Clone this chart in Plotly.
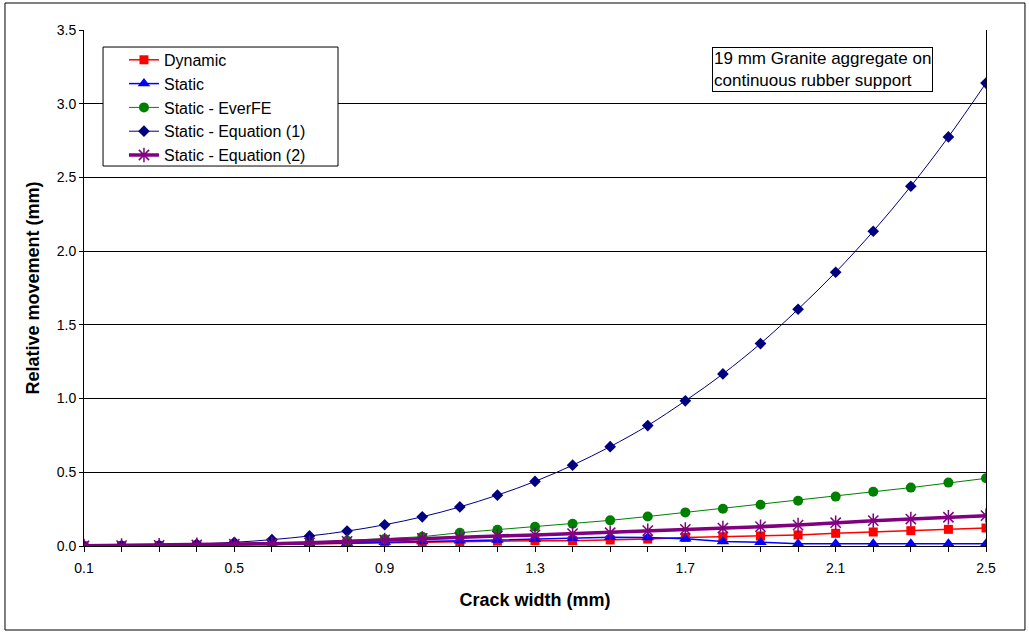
import plotly.graph_objects as go

# Crack width (mm)
crack_width = [0.1, 0.2, 0.3, 0.4, 0.5, 0.6, 0.7, 0.8, 0.9, 1.0, 1.1, 1.2, 1.3,
               1.4, 1.5, 1.6, 1.7, 1.8, 1.9, 2.0, 2.1, 2.2, 2.3, 2.4, 2.5]

# Relative movement (mm) for each series
dynamic = [0.001, 0.002, 0.003, 0.005, 0.008, 0.011, 0.015, 0.019, 0.023, 0.027,
           0.030, 0.033, 0.036, 0.036, 0.041, 0.047, 0.058, 0.063, 0.068, 0.075,
           0.086, 0.095, 0.104, 0.113, 0.122]
static = [0.001, 0.002, 0.003, 0.005, 0.008, 0.011, 0.015, 0.020, 0.025, 0.030,
          0.036, 0.041, 0.046, 0.052, 0.059, 0.058, 0.050, 0.030, 0.026, 0.015,
          0.015, 0.015, 0.015, 0.015, 0.015]
static_everfe = [0.000, 0.001, 0.002, 0.004, 0.007, 0.012, 0.025, 0.036, 0.047, 0.063,
                 0.090, 0.110, 0.131, 0.151, 0.174, 0.200, 0.228, 0.253, 0.280, 0.307,
                 0.335, 0.368, 0.396, 0.430, 0.459]
static_eq1 = [0.000, 0.002, 0.005, 0.013, 0.025, 0.043, 0.068, 0.101, 0.144, 0.198,
              0.265, 0.345, 0.438, 0.548, 0.674, 0.817, 0.985, 1.167, 1.373, 1.606,
              1.857, 2.135, 2.440, 2.775, 3.140]
static_eq2 = [0.001, 0.003, 0.005, 0.008, 0.012, 0.016, 0.022, 0.032, 0.041, 0.052,
              0.059, 0.068, 0.075, 0.084, 0.090, 0.104, 0.113, 0.122, 0.131, 0.142,
              0.158, 0.172, 0.183, 0.195, 0.206]

x_ticks = [0.1, 0.5, 0.9, 1.3, 1.7, 2.1, 2.5]
y_ticks = [0.0, 0.5, 1.0, 1.5, 2.0, 2.5, 3.0, 3.5]

FONT = "Liberation Sans, Arial, sans-serif"
NARROW = "Liberation Sans Narrow, Arial Narrow, Liberation Sans, Arial, sans-serif"

fig = go.Figure()

fig.add_trace(go.Scatter(
    x=crack_width, y=dynamic, name="Dynamic", mode="lines+markers",
    line=dict(color="#FF0000", width=1.5),
    marker=dict(symbol="square", size=9, color="#FF0000"),
))
fig.add_trace(go.Scatter(
    x=crack_width, y=static, name="Static", mode="lines+markers",
    line=dict(color="#0000FF", width=1.5),
    marker=dict(symbol="triangle-up", size=11, color="#0000FF"),
))
fig.add_trace(go.Scatter(
    x=crack_width, y=static_everfe, name="Static - EverFE", mode="lines+markers",
    line=dict(color="#008000", width=1),
    marker=dict(symbol="circle", size=10, color="#008000"),
))
fig.add_trace(go.Scatter(
    x=crack_width, y=static_eq1, name="Static - Equation (1)", mode="lines+markers",
    line=dict(color="#000080", width=1, shape="spline"),
    marker=dict(symbol="diamond", size=9, color="#000080"),
))
fig.add_trace(go.Scatter(
    x=crack_width, y=static_eq2, name="Static - Equation (2)", mode="lines+markers",
    line=dict(color="#800080", width=3.5),
    marker=dict(symbol="asterisk-open", size=12, color="#800080",
                line=dict(color="#800080", width=1.5)),
))

# Outer chart frame
fig.add_shape(type="rect", xref="paper", yref="paper",
              x0=-0.0876, x1=1.0432, y0=-0.1628, y1=1.0523,
              line=dict(color="#000000", width=1), layer="below")

# Legend frame (white box that hides the gridlines behind the legend)
fig.add_shape(type="rect", xref="paper", yref="paper",
              x0=0.0211, x1=0.2816, y0=0.7364, y1=0.967,
              line=dict(color="#000000", width=1), fillcolor="#FFFFFF",
              layer="above")

# Description box
fig.add_annotation(
    xref="paper", yref="paper", x=0.696, y=0.967, xanchor="left", yanchor="top",
    text="19 mm Granite aggregate on<br>continuous rubber support",
    showarrow=False, align="left",
    font=dict(family=FONT, size=17, color="#000000"),
    bordercolor="#000000", borderwidth=1, borderpad=1, bgcolor="#FFFFFF",
)

fig.update_layout(
    width=1029, height=634,
    margin=dict(l=84, r=43, t=30, b=88),
    paper_bgcolor="#FFFFFF", plot_bgcolor="#FFFFFF",
    font=dict(family=FONT, size=13, color="#000000"),
    showlegend=True,
    legend=dict(
        x=0.0443, y=0.975, xanchor="left", yanchor="top",
        bgcolor="rgba(0,0,0,0)", borderwidth=0,
        font=dict(family=FONT, size=16, color="#000000"),
        itemwidth=30,
    ),
    xaxis=dict(
        range=[0.1, 2.5], tickvals=x_ticks, ticktext=[f"{v:.1f}" for v in x_ticks],
        ticks="outside", ticklen=5, tickcolor="#000000",
        minor=dict(dtick=0.1, tick0=0.1, ticks="outside", ticklen=5,
                   tickcolor="#000000", showgrid=False),
        showline=True, linecolor="#000000", linewidth=1, mirror=False,
        showgrid=False, zeroline=False,
        ticklabelstandoff=4,
        tickfont=dict(family=NARROW, size=14),
        title=dict(text="<b>Crack width (mm)</b>", standoff=18,
                   font=dict(family=FONT, size=18)),
    ),
    yaxis=dict(
        range=[0, 3.5], tickvals=y_ticks, ticktext=[f"{v:.1f}" for v in y_ticks],
        ticks="outside", ticklen=4, tickcolor="#000000",
        showline=True, linecolor="#000000", linewidth=1, mirror=True,
        showgrid=True, gridcolor="#000000", gridwidth=1, zeroline=False,
        tickfont=dict(family=FONT, size=14),
        title=dict(text="<b>Relative movement (mm)</b>", standoff=12,
                   font=dict(family=FONT, size=18)),
    ),
)

fig.write_html("out.html")
